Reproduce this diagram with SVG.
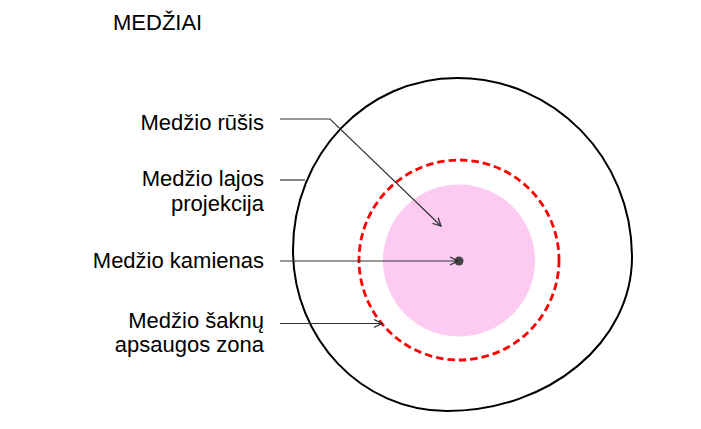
<svg xmlns="http://www.w3.org/2000/svg" width="701" height="429" viewBox="0 0 701 429">
<style>
text{font-family:"Liberation Sans",Arial,sans-serif;font-size:22px;fill:#000}
.lbl{text-anchor:end}
.con{fill:none;stroke:#333;stroke-width:1.2}
</style>
<defs>
<marker id="arr" markerUnits="userSpaceOnUse" markerWidth="10" markerHeight="10" refX="8" refY="4" orient="auto" viewBox="0 0 10 8">
<path d="M0,0 L8,4 L0,8" fill="none" stroke="#333" stroke-width="1.3"/>
</marker>
</defs>
<rect width="701" height="429" fill="#fff"/>
<text id="title" x="113" y="30">MEDŽIAI</text>
<g id="outer-zone">
<path d="M457,78 C554,78 632,158 632,257 C632,342 549,411 447,411 C362,411 293,339 293,250 C293,155 366,78 457,78 Z" fill="none" stroke="#000" stroke-width="2"/>
</g>
<g id="crown">
<circle cx="459" cy="260.5" r="76" fill="#FDCBF1"/>
</g>
<g id="root-zone">
<circle cx="459" cy="260" r="100" fill="none" stroke="#FF0000" stroke-width="2.8" stroke-dasharray="7.5 4"/>
</g>
<g id="trunk">
<circle cx="459" cy="261" r="4.5" fill="#444"/>
</g>
<g id="labels">
<g id="lbl-rusis"><text class="lbl" x="264" y="130">Medžio rūšis</text></g>
<g id="lbl-lajos"><text class="lbl" x="264" y="186">Medžio lajos</text><text class="lbl" x="264" y="211">projekcija</text></g>
<g id="lbl-kamienas"><text class="lbl" x="264" y="268">Medžio kamienas</text></g>
<g id="lbl-saknu"><text class="lbl" x="264" y="328">Medžio šaknų</text><text class="lbl" x="264" y="352">apsaugos zona</text></g>
</g>
<g id="connectors">
<polyline class="con" points="280,119 330,119 441,226" marker-end="url(#arr)"/>
<line class="con" x1="280" y1="180" x2="305" y2="180"/>
<line class="con" x1="280" y1="261" x2="458" y2="261" marker-end="url(#arr)"/>
<line class="con" x1="280" y1="323.5" x2="382" y2="323.5" marker-end="url(#arr)"/>
</g>
</svg>
